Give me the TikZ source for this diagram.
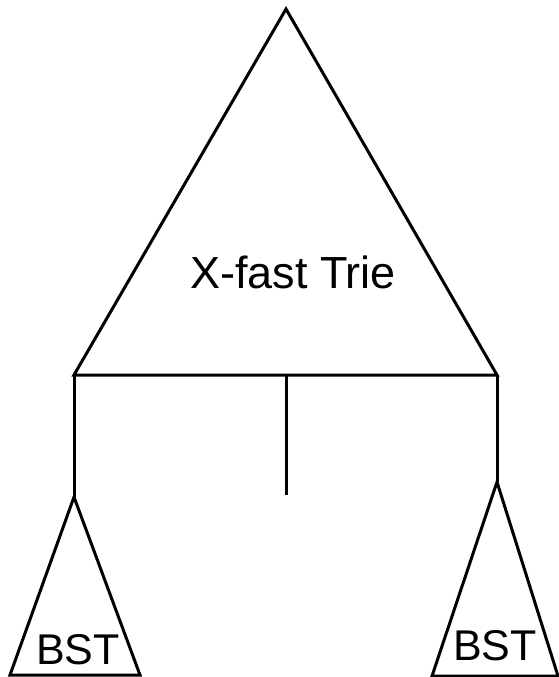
\documentclass[tikz,border=0pt]{standalone}
\usepackage{fontspec}
\setmainfont{Liberation Sans}
\usetikzlibrary{positioning}

\begin{document}
\begin{tikzpicture}[
  x=1pt,y=-1pt,
  tri/.style={draw,line width=3pt,line join=miter},
  link/.style={line width=3pt},
  big/.style={font=\fontsize{45}{45}\selectfont,inner sep=0pt,anchor=base},
  small/.style={font=\fontsize{43}{43}\selectfont,inner sep=0pt,anchor=base}
]
\useasboundingbox (0,0) rectangle (559,677);
% x-fast trie on top
\coordinate (top) at (286,9);
\coordinate (tl) at (74,375);
\coordinate (tr) at (497,375);
\coordinate (tm) at (286,375);
\draw[tri] (top) -- (tl) -- (tr) -- cycle;
\node[big] (trie) at (293,288) {X-fast Trie};
% bst leaves
\coordinate (ltop) at (74,497);
\coordinate (rtop) at (497,482);
\coordinate (mend) at (286,495);
\draw[tri] (ltop) -- (10,675) -- (140,675) -- cycle;
\draw[tri] (rtop) -- (432,676) -- (558,676) -- cycle;
\node[small] (lbst) at (78,664) {BST};
\node[small] (rbst) at (495,660) {BST};
% links
\draw[link] (tl) -- (ltop);
\draw[link] (tm) -- (mend);
\draw[link] (tr) -- (rtop);
\end{tikzpicture}
\end{document}
